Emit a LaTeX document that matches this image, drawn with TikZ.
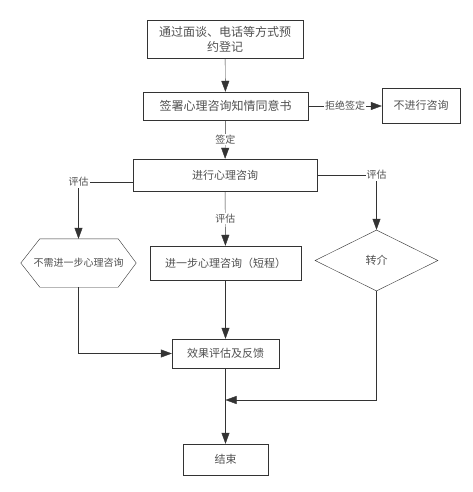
\documentclass[tikz,border=0pt]{standalone}
\usepackage{fontspec}
\setmainfont{Noto Sans CJK SC}
\usetikzlibrary{arrows.meta,calc,positioning,shapes.geometric}
\definecolor{ink}{HTML}{333333}
\definecolor{txt}{HTML}{505050}
\tikzset{>={Triangle[length=11pt,width=8pt]},line width=1.6pt,
  every node/.style={font=\fontsize{11}{13}\selectfont,text=txt},
  box/.style={draw=ink,rectangle,inner sep=2pt},
  flow/.style={->,draw=ink},
  lbl/.style={fill=white,inner sep=1pt,font=\fontsize{10}{12}\selectfont},
  decision/.style={draw=ink,diamond,aspect=2,inner sep=0pt}}

\begin{document}
\begin{tikzpicture}[x=1pt,y=-1pt]
\useasboundingbox (0,0) rectangle (472,492);
\node[box,minimum width=156pt,minimum height=38pt,align=center,font=\fontsize{12}{15}\selectfont] (reg) at (225,39) {通过面谈、电话等方式预\\约登记};
\node[box,minimum width=165pt,minimum height=28pt,font=\fontsize{12}{14}\selectfont] (sign) at (225.5,106) {签署心理咨询知情同意书};
\node[box,minimum width=78pt,minimum height=35pt] (refuse) at (421,105.5) {不进行咨询};
\node[box,minimum width=184pt,minimum height=32pt] (consult) at (225,175) {进行心理咨询};
\node[minimum width=115pt,minimum height=48pt,font=\fontsize{10}{12}\selectfont] (noneed) at (78.5,263) {不需进一步心理咨询};
\draw[ink] (noneed.west) -- ([xshift=19pt]noneed.north west) -- ([xshift=-18pt]noneed.north east) -- (noneed.east)
  -- ([xshift=-18pt]noneed.south east) -- ([xshift=19pt]noneed.south west) -- cycle;
\node[box,minimum width=151pt,minimum height=34pt] (brief) at (225.5,263) {进一步心理咨询（短程）};
\node[decision,minimum width=123pt,minimum height=61pt] (refer) at (376.5,260.5) {转介};
\node[box,minimum width=107pt,minimum height=29pt] (effect) at (225.5,353.5) {效果评估及反馈};
\node[box,minimum width=85pt,minimum height=31pt] (finish) at (225.5,459.5) {结束};
\coordinate (join) at (effect.south |- 0,400);

\draw[flow] (reg) -- (sign);
\draw[flow] (sign.east) -- node[lbl]{拒绝签定} (sign.east -| refuse.west);
\draw[flow] (sign) -- node[lbl]{签定} (consult);
\draw[flow] ([yshift=-7pt]consult.west) -| node[lbl]{评估} (noneed.north);
\draw[flow] (consult) -- node[lbl]{评估} (brief);
\draw[flow] (consult.east) -| node[lbl]{评估} (refer.north);
\draw[flow] (brief) -- (effect);
\draw[flow] (noneed.south) |- (effect.west);
\draw[flow] (refer.south) |- (join);
\draw[flow] (effect) -- (finish);
\end{tikzpicture}
\end{document}
